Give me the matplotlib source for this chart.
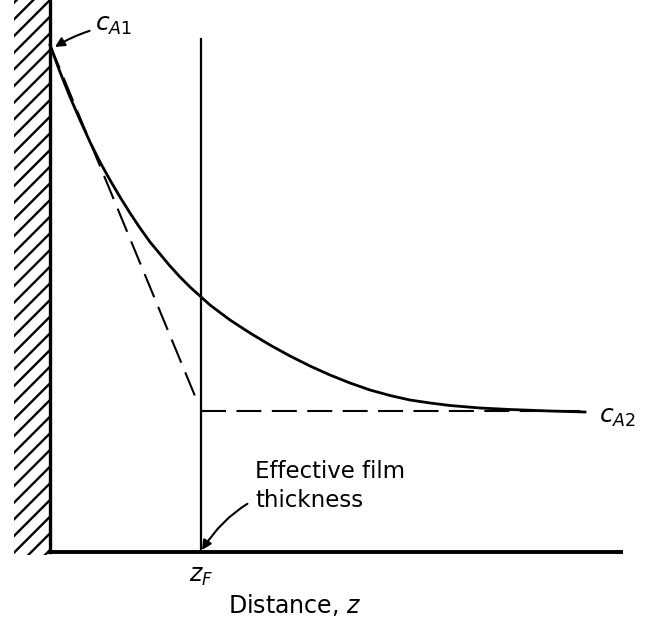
import numpy as np
import matplotlib
matplotlib.use('Agg')
import matplotlib.pyplot as plt
from matplotlib.patches import Rectangle

plt.rcParams['font.family'] = ['DejaVu Sans']
plt.rcParams['mathtext.fontset'] = 'dejavusans'
plt.rcParams['hatch.linewidth'] = 1.7

#%% Profile data (distance z, concentration c)
z_profile = [0.0, 0.1, 0.2, 0.3, 0.4, 0.5, 0.6, 0.7, 0.8, 0.9, 1.0, 1.1, 1.2,
             1.3, 1.4, 1.5, 1.6, 1.8, 2.0, 2.2, 2.4, 2.6, 2.8, 3.0, 3.2, 3.4,
             3.6, 3.8, 4.0, 4.3, 4.6, 5.0, 5.35]
c_profile = [5.07, 4.80, 4.55, 4.32, 4.10, 3.90, 3.72, 3.55, 3.39, 3.24, 3.10,
             2.98, 2.86, 2.75, 2.65, 2.56, 2.47, 2.32, 2.19, 2.07, 1.96, 1.86,
             1.77, 1.69, 1.62, 1.565, 1.52, 1.49, 1.465, 1.44, 1.425, 1.41, 1.40]

c_A1 = 5.07          # concentration at the wall
c_A2 = 1.41          # bulk concentration
z_F = 1.51           # effective film thickness

# linear film model: tangent at wall, then bulk value
z_film = [0.0, 1.45, 1.50]
c_film = [c_A1, 1.56, 1.49]
z_bulk = [z_F, 5.35]

#%% Plot
fig = plt.figure(figsize=(6.49, 6.31), dpi=100)
ax = fig.add_axes([50/649, 79/631, 571/649, 552/631])
ax.set_xlim(0, 5.71)
ax.set_ylim(0, 5.52)

for side in ['top', 'right']:
    ax.spines[side].set_visible(False)
ax.spines['left'].set_linewidth(2.4)
ax.spines['bottom'].set_linewidth(2.8)
ax.set_yticks([])
ax.set_xticks([z_F], [r'$z_F$'], fontsize=17)
ax.tick_params(axis='x', length=0, pad=9)

# wall hatching
ax.add_patch(Rectangle((-0.36, -0.03), 0.36, 5.6, fill=False, hatch='//',
                       edgecolor='black', linewidth=0, clip_on=False))

ax.plot(z_profile, c_profile, color='black', lw=2.0, clip_on=False)
ax.plot(z_film, c_film, color='black', lw=1.5, dashes=(12, 5))
ax.plot(z_bulk, [c_A2, c_A2], color='black', lw=1.5, dashes=(12, 5))
ax.plot([z_F, z_F], [0, 5.13], color='black', lw=1.6)

ax.annotate(r'$c_{A1}$', xy=(0.05, 5.05), xytext=(0.45, 5.27), fontsize=18,
            va='center', ha='left',
            arrowprops=dict(arrowstyle='-|>', color='black', lw=1.5,
                            shrinkA=2, shrinkB=0, mutation_scale=14,
                            connectionstyle='arc3,rad=0.1'),
            annotation_clip=False)
ax.text(5.49, 1.35, r'$c_{A2}$', fontsize=18, va='center', ha='left', clip_on=False)

ax.annotate('Effective film\nthickness', xy=(z_F + 0.01, 0.02), xytext=(2.05, 0.66),
            fontsize=16.5, va='center', ha='left', linespacing=1.3,
            arrowprops=dict(arrowstyle='-|>', color='black', lw=1.5,
                            shrinkA=4, shrinkB=0, mutation_scale=14,
                            connectionstyle='arc3,rad=0.3'))

ax.text(2.45, -0.53, r'Distance, $z$', fontsize=17, ha='center', va='center')

fig.savefig('out.png', dpi=100)
